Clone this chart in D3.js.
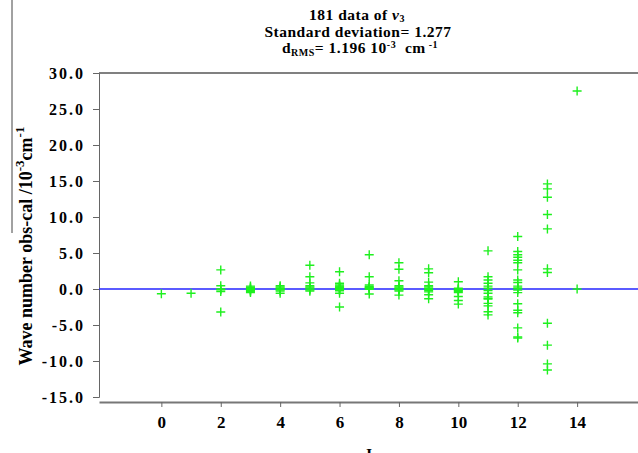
<!DOCTYPE html>
<html>
<head>
<meta charset="utf-8">
<script src="https://cdn.jsdelivr.net/npm/d3@7"></script>
<style>
  html, body { margin: 0; padding: 0; background: #fff; }
  svg { display: block; }
  text { font-family: "Liberation Serif", "Times New Roman", serif; font-weight: bold; fill: #000; }
</style>
</head>
<body>
<div id="chart"></div>
<script>
var jLevels = [0, 1, 2, 3, 4, 5, 6, 7, 8, 9, 10, 11, 12, 13, 14];
var residuals = [
    [-0.65],
    [-0.6],
    [2.65, 0.45, 0.0, -0.1, -0.35, -3.2],
    [0.4, 0.25, 0.1, 0.0, -0.1, -0.2, -0.35, -0.5],
    [0.45, 0.3, 0.15, 0.05, -0.05, -0.15, -0.3, -0.6],
    [3.3, 1.7, 0.85, 0.45, 0.3, 0.15, 0.0, -0.15, -0.3],
    [2.4, 0.8, 0.55, 0.4, 0.3, 0.2, 0.1, 0.0, -0.1, -0.25, -0.6, -2.5],
    [4.75, 1.7, 0.55, 0.35, 0.25, 0.15, 0.05, -0.05, -0.7],
    [3.65, 2.75, 1.15, 0.45, 0.3, 0.15, 0.05, -0.05, -0.15, -0.3, -0.85],
    [2.8, 2.25, 0.95, 0.45, 0.3, 0.1, -0.05, -0.2, -0.4, -0.8, -1.35],
    [1.0, 0.1, 0.0, -0.1, -0.2, -0.35, -0.5, -1.05, -1.6, -2.1],
    [5.3, 1.7, 1.25, 0.8, 0.4, 0.1, -0.2, -0.6, -1.1, -1.3, -1.4, -2.0, -2.35, -3.15, -3.6],
    [7.3, 5.2, 4.75, 4.4, 4.0, 3.65, 2.65, 1.25, 0.9, 0.4, 0.15, 0.05, -0.15, -0.5, -2.05, -2.95, -3.3, -5.4, -6.65, -6.8],
    [14.6, 13.9, 12.75, 10.35, 8.35, 2.8, 2.3, -4.75, -7.8, -10.4, -11.25],
    [27.5, 0.0]
];
var xTicks = [0, 2, 4, 6, 8, 10, 12, 14];
var yTicks = [-15, -10, -5, 0, 5, 10, 15, 20, 25, 30];
var yTickLabels = ["-15.0", "-10.0", "-5.0", "0.0", "5.0", "10.0", "15.0", "20.0", "25.0", "30.0"];

var width = 638, height = 453;
var plotLeft = 99, plotRight = 638;
var xAxisY = 402;

var svg = d3.select("#chart").append("svg")
    .attr("width", width)
    .attr("height", height);

var x = d3.scaleLinear().domain([-2.1, 16.05]).range([plotLeft, plotRight]);
var y = d3.scaleLinear().domain([-15, 30]).range([397, 73]);

// flatten into points
var points = [];
jLevels.forEach(function (j, i) {
    residuals[i].forEach(function (v) {
        points.push({ j: j, v: v });
    });
});

// top frame line
svg.append("line")
    .attr("x1", plotLeft).attr("x2", plotRight)
    .attr("y1", y(30)).attr("y2", y(30))
    .attr("stroke", "#808080")
    .attr("stroke-width", 2);

// left stray line beside the axis title
svg.append("line")
    .attr("x1", 12).attr("x2", 12)
    .attr("y1", 0).attr("y2", 233)
    .attr("stroke", "#444")
    .attr("stroke-width", 1);

// y axis
var yAxis = svg.append("g")
    .attr("transform", "translate(" + plotLeft + ",0)")
    .call(d3.axisLeft(y)
        .tickValues(yTicks)
        .tickFormat(function (d, i) { return yTickLabels[i]; })
        .tickSize(6)
        .tickPadding(8));
yAxis.select(".domain").attr("stroke", "#666");
yAxis.selectAll(".tick line").attr("stroke", "#666");
yAxis.selectAll(".tick text")
    .attr("font-family", "Liberation Serif")
    .attr("font-weight", "bold")
    .attr("font-size", "16px")
    .attr("letter-spacing", "2px")
    .attr("fill", "#000");

// x axis
var xAxis = svg.append("g")
    .attr("transform", "translate(0," + xAxisY + ")")
    .call(d3.axisBottom(x)
        .tickValues(xTicks)
        .tickFormat(d3.format("d"))
        .tickSize(5)
        .tickSizeOuter(0)
        .tickPadding(9));
xAxis.select(".domain").attr("stroke", "#777").attr("stroke-width", 2);
xAxis.selectAll(".tick line").attr("stroke", "#666");
xAxis.selectAll(".tick text")
    .attr("font-family", "Liberation Serif")
    .attr("font-weight", "bold")
    .attr("font-size", "17px")
    .attr("fill", "#000");

// zero line
svg.append("line")
    .attr("x1", plotLeft).attr("x2", plotRight)
    .attr("y1", y(0)).attr("y2", y(0))
    .attr("stroke", "#2525ff")
    .attr("stroke-width", 1.5);

// plus markers
svg.append("g").selectAll("path")
    .data(points)
    .enter().append("path")
    .attr("transform", function (d) { return "translate(" + x(d.j) + "," + y(d.v) + ")"; })
    .attr("d", "M-4.5,0H4.5M0,-4.5V4.5")
    .attr("stroke", "#1ef01e")
    .attr("stroke-width", 1.4)
    .attr("fill", "none");

// title
var title = svg.append("g")
    .attr("font-size", "15.5px")
    .attr("letter-spacing", "0.5px")
    .attr("text-anchor", "middle");
var t1 = title.append("text").attr("x", 357).attr("y", 20);
t1.append("tspan").text("181 data of ");
t1.append("tspan").attr("font-style", "italic").text("\u03BD");
t1.append("tspan").attr("font-size", "10px").attr("dy", 2).text("3");

title.append("text").attr("x", 358).attr("y", 37).text("Standard deviation= 1.277");

var t3 = title.append("text").attr("x", 360).attr("y", 53);
t3.append("tspan").text("d");
t3.append("tspan").attr("font-size", "10px").attr("dy", 3).text("RMS");
t3.append("tspan").attr("dy", -3).text("= 1.196 10");
t3.append("tspan").attr("font-size", "10px").attr("dy", -5).text("-3");
t3.append("tspan").attr("dy", 5).text("\u00A0\u00A0cm");
t3.append("tspan").attr("font-size", "10px").attr("dy", -5).text(" -1");

// y axis title
var yt = svg.append("text")
    .attr("transform", "translate(32,246) rotate(-90)")
    .attr("text-anchor", "middle")
    .attr("font-size", "18px");
yt.append("tspan").text("Wave number obs-cal /10");
yt.append("tspan").attr("font-size", "13px").attr("dy", -8).text("-3");
yt.append("tspan").attr("dy", 8).text("cm");
yt.append("tspan").attr("font-size", "13px").attr("dy", -8).text("-1");

// x axis title
svg.append("text")
    .attr("x", 368)
    .attr("y", 460)
    .attr("text-anchor", "middle")
    .attr("font-size", "16px")
    .text("J");
</script>
</body>
</html>
